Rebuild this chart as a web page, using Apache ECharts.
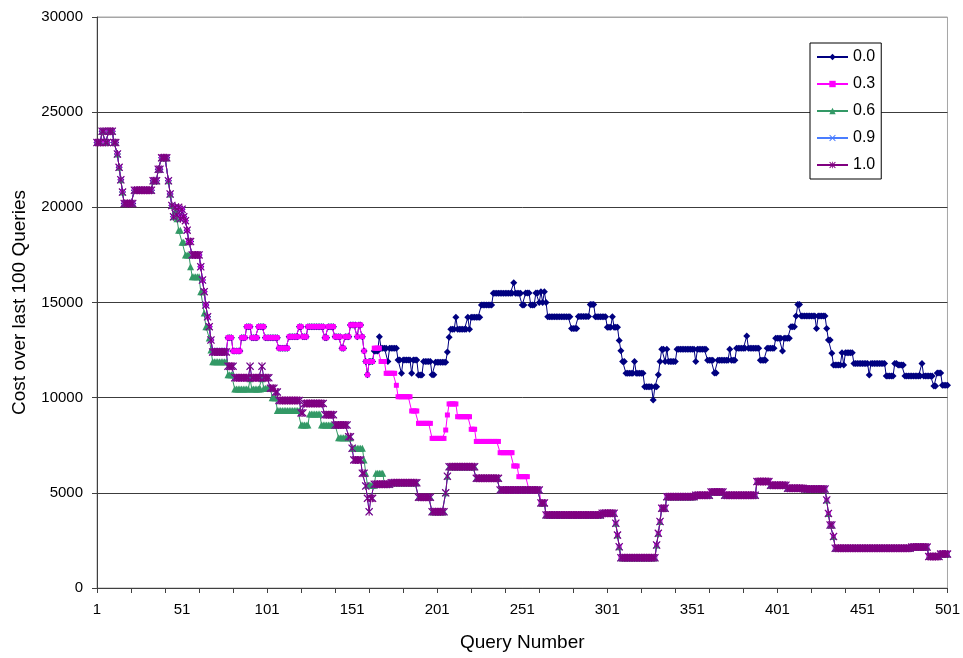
<!DOCTYPE html>
<html>
<head>
<meta charset="utf-8">
<script src="https://cdn.jsdelivr.net/npm/echarts@6/dist/echarts.min.js"></script>
<style>
  html, body { margin: 0; padding: 0; background: #ffffff; }
  #chart { width: 963px; height: 658px; }
</style>
</head>
<body>
<div id="chart"></div>
<script>
// Cost over the last 100 queries, per query number, for five parameter settings.
// Each series is stored as step runs: [value, number of consecutive queries].

// Queries 1-44: identical for every setting
const headRuns = [[23400,3],[24000,2],[23400,2],[24000,3],[23400,2],[22800,1],[22100,1],[21450,1],[20800,1],
  [20200,6],[20900,11],[21400,3],[22000,2],[22600,4],[21400,1],[20700,1]];

// Queries 45-68: steep fall
const fallRuns = [[20100,1],[19500,1],[20000,1],[19600,1],[20000,1],[19400,1],[19900,1],[19500,1],[19300,1],
  [18800,1],[18200,2],[17500,5],[16880,1],[16180,1],[15570,1],[14870,1],[14250,1],[13730,1],[13030,1]];
const fallRuns06 = [[20100,1],[19500,1],[19800,1],[19400,1],[18800,2],[18170,2],[17500,3],[16880,1],[16350,5],
  [15570,2],[14450,1],[13730,2],[13130,1],[12500,1]];

// Queries 69-158: settings 0.0 and 0.3
const upperRuns = [[12450,9],[13150,3],[12450,5],[13150,3],[13730,3],[13150,4],[13730,4],[13150,8],[12600,6],
  [13200,6],[13730,2],[13200,3],[13730,10],[13150,2],[13730,4],[13200,4],[12600,2],[13200,3],[13820,4],
  [13200,1],[13820,2],[13200,1],[12450,1]];

// Queries 159-501: setting 0.0
const navyRuns = [[11900,1],[11200,1],[11900,3],[12450,3],[13200,1],[12600,4],[11900,1],[12600,5],[11980,2],
  [11280,1],[11980,5],[11280,1],[11980,3],[11190,3],[11900,5],[11200,2],[11860,7],[12400,1],[13170,1],
  [13590,3],[14220,1],[13590,6],[14220,1],[13590,1],[14220,6],[14870,7],[15480,12],[16040,1],[15480,4],
  [14870,2],[15500,3],[14870,3],[15500,2],[15000,1],[15570,1],[15000,1],[15570,1],[15000,1],[14250,14],
  [13640,4],[14270,7],[14900,3],[14250,7],[13700,3],[14250,1],[13700,3],[13000,1],[12470,1],[11900,2],
  [11280,5],[11900,1],[11280,5],[10580,5],[9880,1],[10580,2],[11200,1],[11900,1],[12540,2],[11900,1],
  [12540,1],[11900,5],[12540,11],[11900,1],[12540,6],[11970,4],[11300,2],[11970,7],[12540,1],[11970,3],
  [12590,6],[13240,1],[12590,7],[11970,4],[12590,5],[13120,4],[12450,1],[13120,4],[13730,3],[14290,1],
  [14900,2],[14290,9],[13640,1],[14290,5],[13640,1],[13030,2],[12330,1],[11720,5],[12360,1],[11720,1],
  [12360,5],[11800,9],[11190,1],[11800,9],[11140,5],[11800,2],[11720,4],[11140,10],[11800,1],[11140,6],
  [10610,2],[11300,3],[10650,4]];

// Queries 159-254: setting 0.3
const magentaRuns = [[11900,1],[11200,1],[11900,3],[12600,4],[11900,3],[11280,6],[10650,1],[10050,8],[9300,4],
  [8650,8],[7860,8],[8300,1],[9090,1],[9670,5],[9000,8],[8340,3],[7700,14],[7110,8],[6410,3],[5850,6]];

// Queries 69-173: settings 0.9 and 1.0
const lowRuns10 = [[12400,9],[11650,4],[11050,9],[11650,1],[11050,6],[11650,1],[11050,4],[10500,3],[10300,2],
  [9850,13],[9200,2],[9700,12],[9100,6],[8560,8],[7950,2],[7340,1],[6730,5],[6030,2],[5360,1],[4710,1],
  [4010,1],[4710,2],[5450,10]];

// Queries 69-173: setting 0.6
const lowRuns06 = [[11890,9],[11200,4],[10450,9],[11000,1],[10450,6],[11000,1],[10500,5],[10000,3],[9320,14],
  [8560,5],[9140,7],[8560,10],[7900,8],[7340,7],[6730,1],[6030,1],[5400,5],[6030,5],[5450,4]];

// Queries 174-254: settings 0.6, 0.9 and 1.0
const midRuns = [[5530,16],[4770,8],[4010,8],[5000,1],[5870,1],[6370,16],[5760,14],[5150,17]];

// Queries 255-501: settings 0.3, 0.6, 0.9 and 1.0
const tailRuns = [[5150,7],[4470,3],[3840,33],[3930,8],[3400,1],[2780,1],[2170,1],[1590,21],[2260,1],[2870,1],
  [3490,1],[4190,3],[4800,17],[4870,9],[5050,8],[4870,19],[5590,8],[5400,10],[5240,10],[5200,13],[4620,1],
  [3920,1],[3310,2],[2700,1],[2090,45],[2150,10],[1650,7],[1780,5]];

const seriesNames = ['0.0', '0.3', '0.6', '0.9', '1.0'];
const queryCount = 501;

function fromRuns(...parts) {
  const out = [];
  parts.forEach(runs => runs.forEach(([v, n]) => { for (let k = 0; k < n; k++) out.push(v); }));
  return out;
}

const categories = [];
for (let q = 1; q <= queryCount; q++) categories.push(String(q));

const values = {
  '0.0': fromRuns(headRuns, fallRuns, upperRuns, navyRuns),
  '0.3': fromRuns(headRuns, fallRuns, upperRuns, magentaRuns, tailRuns),
  '0.6': fromRuns(headRuns, fallRuns06, lowRuns06, midRuns, tailRuns),
  '0.9': fromRuns(headRuns, fallRuns, lowRuns10, midRuns, tailRuns),
  '1.0': fromRuns(headRuns, fallRuns, lowRuns10, midRuns, tailRuns)
};

const FONT = '"Liberation Sans", Arial, sans-serif';
const crossPath = 'path://M0,1L1,0L5,4L9,0L10,1L6,5L10,9L9,10L5,6L1,10L0,9L4,5Z';
const starPath = 'path://M0,1L1,0L5,4L9,0L10,1L6,5L10,9L9,10L5,6L1,10L0,9L4,5Z M4.4,0L5.6,0L5.6,10L4.4,10Z';

const looks = {
  '0.0': { color: '#000080', symbol: 'diamond', size: 7 },
  '0.3': { color: '#ff00ff', symbol: 'rect', size: 5 },
  '0.6': { color: '#339966', symbol: 'triangle', size: 7 },
  '0.9': { color: '#4a7dff', symbol: crossPath, size: 7 },
  '1.0': { color: '#800080', symbol: starPath, size: 8 }
};

const chart = echarts.init(document.getElementById('chart'), null, { renderer: 'canvas' });

chart.setOption({
  animation: false,
  backgroundColor: '#ffffff',
  textStyle: { fontFamily: FONT, color: '#000' },
  grid: {
    left: 97, right: 12, top: 17, bottom: 70,
    show: true, borderColor: '#a6a6a6', borderWidth: 1, backgroundColor: '#ffffff'
  },
  legend: {
    orient: 'vertical', left: 810, top: 43,
    itemWidth: 31, itemHeight: 8, itemGap: 11,
    padding: [6, 6, 6, 6],
    borderColor: '#000', borderWidth: 1, backgroundColor: '#ffffff',
    textStyle: { fontFamily: FONT, fontSize: 16, color: '#000' },
    data: seriesNames
  },
  xAxis: {
    type: 'category',
    data: categories,
    boundaryGap: false,
    name: 'Query Number',
    nameLocation: 'middle',
    nameGap: 45,
    nameTextStyle: { fontFamily: FONT, fontSize: 19, color: '#000' },
    axisLine: { lineStyle: { color: '#404040', width: 1 } },
    axisTick: { show: true, interval: 19, length: 5, lineStyle: { color: '#404040' } },
    axisLabel: { interval: 49, margin: 14, fontFamily: FONT, fontSize: 15, color: '#000' },
    splitLine: { show: false }
  },
  yAxis: {
    type: 'value',
    min: 0, max: 30000, interval: 5000,
    name: 'Cost over last 100 Queries',
    nameLocation: 'middle',
    nameGap: 68,
    nameTextStyle: { fontFamily: FONT, fontSize: 19, color: '#000' },
    axisLine: { show: true, lineStyle: { color: '#404040', width: 1 } },
    axisTick: { show: true, length: 5, lineStyle: { color: '#404040' } },
    axisLabel: { margin: 14, fontFamily: FONT, fontSize: 15, color: '#000', formatter: v => String(v) },
    splitLine: {
      show: true,
      lineStyle: { color: ['#3c3c3c', '#3c3c3c', '#3c3c3c', '#3c3c3c', '#3c3c3c', '#3c3c3c', '#a6a6a6'], width: 1 }
    }
  },
  series: seriesNames.map(name => ({
    name: name,
    type: 'line',
    data: values[name],
    symbol: looks[name].symbol,
    symbolSize: looks[name].size,
    showSymbol: true,
    showAllSymbol: true,
    lineStyle: { color: looks[name].color, width: 1 },
    itemStyle: { color: looks[name].color, borderWidth: 0 },
    emphasis: { disabled: true }
  }))
});
</script>
</body>
</html>
